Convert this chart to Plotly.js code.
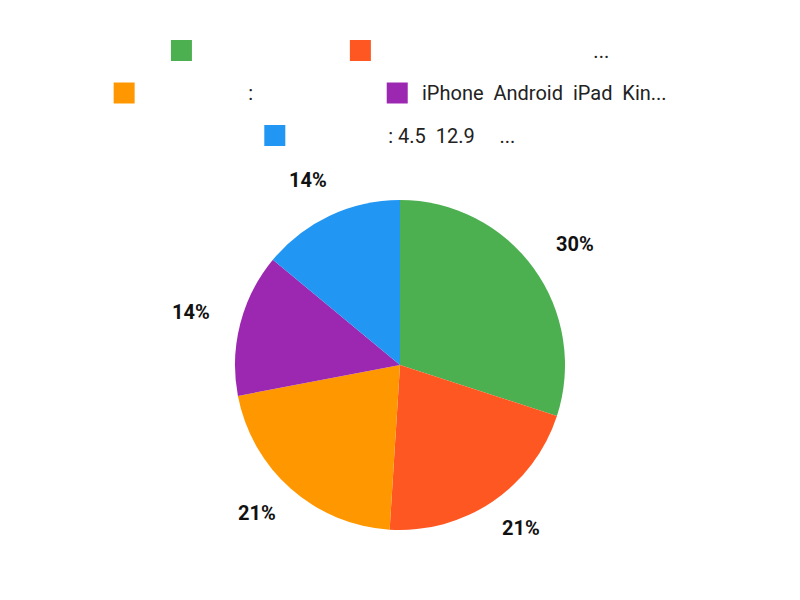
<!DOCTYPE html>
<html>
<head>
<meta charset="utf-8">
<script src="https://cdn.plot.ly/plotly-3.0.1.min.js"></script>
<style>
  html, body { margin: 0; padding: 0; background: #fff; }
  #pie { width: 800px; height: 600px; }
</style>
</head>
<body>
<div id="pie"></div>
<script>
// the legend names in the picture are mostly blank (glyphs missing), keep the visible parts
var sp = function (n) { return '\u00a0'.repeat(n); };

var labels = [
  sp(27),
  sp(42) + '...',
  sp(20) + ':' + sp(25),
  'iPhone\u00a0\u00a0Android\u00a0\u00a0iPad\u00a0\u00a0Kin...',
  sp(18) + ':\u00a04.5' + sp(2) + '12.9' + sp(5) + '...'
];
var values = [30, 21, 21, 14, 14];
var colors = ['#4CAF50', '#FF5722', '#FF9800', '#9C27B0', '#2196F3'];

var W = 800, H = 600;
var FONT = 'Roboto';
var LEG_SIZE = 20;

var trace1 = {
  labels: labels,
  values: values,
  type: 'pie',
  sort: false,
  direction: 'clockwise',
  rotation: 0,
  marker: {colors: colors, line: {width: 0}},
  textinfo: 'none',
  hoverinfo: 'label+percent',
  showlegend: false,
  domain: {x: [0.29375, 0.70625], y: [0.1167, 0.6667]}
};

var layout = {
  width: W,
  height: H,
  margin: {l: 0, r: 0, t: 0, b: 0},
  paper_bgcolor: '#fff',
  font: {family: FONT, size: LEG_SIZE, color: '#222'},
  showlegend: false
};

// ---- legend like the original: centred rows, square swatch, name ----
var ctx = document.createElement('canvas').getContext('2d');
ctx.font = LEG_SIZE + 'px ' + FONT;

var box = 21, txtGap = 14, itemGap = 10, maxRow = 600, legCx = 390;
var rowY = [50.5, 93, 135.5];

function legendParts() {
  var rows = [[]], rowW = [0];
  labels.forEach(function (lab, i) {
    var w = box + txtGap + ctx.measureText(lab).width;
    var r = rows.length - 1;
    var add = rows[r].length ? itemGap + w : w;
    if (rows[r].length && rowW[r] + add > maxRow) {
      rows.push([]); rowW.push(0); r++; add = w;
    }
    rows[r].push({i: i, w: w});
    rowW[r] += add;
  });
  var shapes = [], anns = [];
  rows.forEach(function (row, r) {
    var x = legCx - rowW[r] / 2, y = rowY[r];
    row.forEach(function (it) {
      shapes.push({
        type: 'rect', xref: 'paper', yref: 'paper',
        x0: x / W, x1: (x + box) / W,
        y0: 1 - (y + box / 2) / H, y1: 1 - (y - box / 2) / H,
        fillcolor: colors[it.i], line: {width: 0}
      });
      anns.push({
        xref: 'paper', yref: 'paper', x: (x + box + txtGap) / W, y: 1 - y / H,
        xanchor: 'left', yanchor: 'middle', showarrow: false,
        borderpad: 0, borderwidth: 0,
        text: labels[it.i], font: {family: FONT, size: LEG_SIZE, color: '#222'}
      });
      x += it.w + itemGap;
    });
  });
  return {shapes: shapes, anns: anns};
}

var gd = document.getElementById('pie');
var config = {responsive: false, displayModeBar: false};

Plotly.newPlot(gd, [trace1], layout, config).then(function () {
  var cd0 = gd.calcdata[0][0];
  var cx = cd0.cx, cy = cd0.cy, r = cd0.r;
  var total = values.reduce(function (a, b) { return a + b; }, 0);
  var acc = 0, pct = [];
  values.forEach(function (v) {
    var mid = (acc + v / 2) / total * 2 * Math.PI;
    acc += v;
    var ux = Math.sin(mid), uy = -Math.cos(mid);
    var d = r + 36;
    var px = cx + d * ux + (ux >= 0 ? 15 : -15) * Math.abs(ux);
    var py = cy + d * uy - 3;
    pct.push({
      xref: 'paper', yref: 'paper',
      x: px / W, y: 1 - py / H,
      xanchor: 'center', yanchor: 'middle', showarrow: false,
      text: Math.round(v / total * 100) + '%',
      font: {family: FONT, size: 20, color: '#111', weight: 'bold'}
    });
  });
  var leg = legendParts();
  return Plotly.relayout(gd, {shapes: leg.shapes, annotations: leg.anns.concat(pct)});
});
</script>
</body>
</html>
